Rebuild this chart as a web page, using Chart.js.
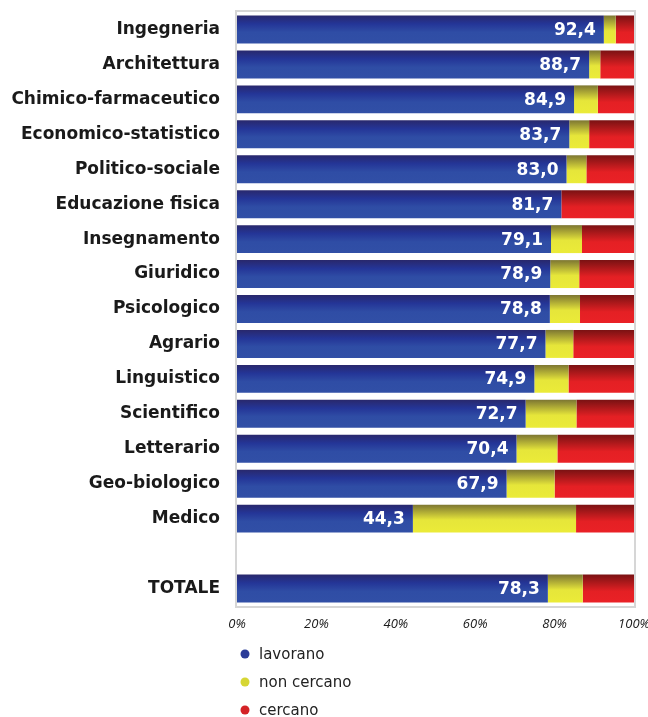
<!DOCTYPE html>
<html>
<head>
<meta charset="utf-8">
<title>Condizione occupazionale per gruppo disciplinare</title>
<script src="https://cdn.jsdelivr.net/npm/chart.js@4/dist/chart.umd.min.js"></script>
<style>
  html, body { margin: 0; padding: 0; background: #ffffff; }
  #wrap { width: 648px; height: 717px; position: relative; }
</style>
</head>
<body>
<div id="wrap"><canvas id="chart"></canvas></div>
<script>
// categories (empty slot keeps the gap before TOTALE)
const categories = [
  'Ingegneria', 'Architettura', 'Chimico-farmaceutico', 'Economico-statistico',
  'Politico-sociale', 'Educazione fisica', 'Insegnamento', 'Giuridico',
  'Psicologico', 'Agrario', 'Linguistico', 'Scientifico', 'Letterario',
  'Geo-biologico', 'Medico', '', 'TOTALE'
];

// series values (%)
const lavorano = [92.4, 88.7, 84.9, 83.7, 83.0, 81.7, 79.1, 78.9, 78.8, 77.7, 74.9, 72.7, 70.4, 67.9, 44.3, null, 78.3];
const nonCercano = [3.0, 2.8, 6.0, 5.0, 5.0, 0, 7.8, 7.3, 7.6, 7.0, 8.6, 12.8, 10.3, 12.1, 41.1, null, 8.8];
const cercano = [4.6, 8.5, 9.1, 11.3, 12.0, 18.3, 13.1, 13.8, 13.6, 15.3, 16.5, 14.5, 19.3, 20.0, 14.6, null, 12.9];

const seriesNames = ['lavorano', 'non cercano', 'cercano'];
const xTicks = [0, 20, 40, 60, 80, 100];

const FONT = "'DejaVu Sans', Verdana, sans-serif";

// vertical gradient per bar, dark on top like the original
function barGradient(stops) {
  return function(ctx) {
    const chart = ctx.chart;
    const yScale = chart.scales.y;
    if (!chart.chartArea || !yScale || ctx.type !== 'data') return stops[stops.length - 1][1];
    const center = yScale.getPixelForValue(ctx.dataIndex);
    const half = (yScale.height / categories.length) * 0.8 / 2;
    const g = chart.ctx.createLinearGradient(0, center - half, 0, center + half);
    stops.forEach(function(s) { g.addColorStop(s[0], s[1]); });
    return g;
  };
}

const blueStops = [[0, '#29286c'], [0.3, '#243597'], [0.6, '#2f4da5'], [1, '#314fa6']];
const yellowStops = [[0, '#7d7632'], [0.55, '#e6e63a'], [1, '#ebeb38']];
const redStops = [[0, '#7a1213'], [0.6, '#e42024'], [1, '#ea2126']];
const legendColors = ['#2b3c98', '#d6d634', '#d42226'];

// light grey frame round the plot area
const framePlugin = {
  id: 'frame',
  beforeDatasetsDraw: function(chart) {
    const a = chart.chartArea;
    const ctx = chart.ctx;
    ctx.save();
    ctx.strokeStyle = '#d6d6d6';
    ctx.lineWidth = 2;
    ctx.strokeRect(a.left - 1, a.top - 1, a.right - a.left + 2, a.bottom - a.top + 2);
    ctx.restore();
  }
};

// white values at the end of the blue bars
const valueLabels = {
  id: 'valueLabels',
  afterDatasetsDraw: function(chart) {
    const ctx = chart.ctx;
    const meta = chart.getDatasetMeta(0);
    ctx.save();
    ctx.font = 'bold 17px ' + FONT;
    ctx.fillStyle = '#ffffff';
    ctx.textAlign = 'right';
    ctx.textBaseline = 'middle';
    meta.data.forEach(function(bar, i) {
      const v = lavorano[i];
      if (v === null) return;
      ctx.fillText(v.toFixed(1).replace('.', ','), bar.x - 8, bar.y + 1);
    });
    ctx.restore();
  }
};

// vertical legend under the axis
const stackedLegend = {
  id: 'stackedLegend',
  afterDraw: function(chart) {
    const ctx = chart.ctx;
    ctx.save();
    ctx.font = '15px ' + FONT;
    ctx.textBaseline = 'middle';
    chart.data.datasets.forEach(function(ds, i) {
      const y = 654 + i * 28;
      ctx.beginPath();
      ctx.arc(245, y, 4.5, 0, Math.PI * 2);
      ctx.fillStyle = legendColors[i];
      ctx.fill();
      ctx.fillStyle = '#222222';
      ctx.fillText(ds.label, 259, y + 1);
    });
    ctx.restore();
  }
};

new Chart(document.getElementById('chart'), {
  type: 'bar',
  data: {
    labels: categories,
    datasets: [
      { label: seriesNames[0], data: lavorano, backgroundColor: barGradient(blueStops) },
      { label: seriesNames[1], data: nonCercano, backgroundColor: barGradient(yellowStops) },
      { label: seriesNames[2], data: cercano, backgroundColor: barGradient(redStops) }
    ]
  },
  options: {
    indexAxis: 'y',
    responsive: true,
    maintainAspectRatio: false,
    animation: false,
    barPercentage: 0.8,
    categoryPercentage: 1,
    layout: { padding: { left: 0, right: 14, top: 12, bottom: 83 } },
    plugins: {
      legend: { display: false },
      tooltip: { enabled: false }
    },
    scales: {
      x: {
        stacked: true,
        min: 0,
        max: 100,
        afterBuildTicks: function(scale) {
          scale.ticks = xTicks.map(function(v) { return { value: v }; });
        },
        afterFit: function(scale) {
          scale.height = 28;
          scale.paddingLeft = 0;
          scale.paddingRight = 0;
        },
        grid: { display: false, drawTicks: false },
        border: { display: false },
        ticks: {
          padding: 10,
          color: '#1a1a1a',
          font: { family: "'Open Sans', sans-serif", size: 13, style: 'italic' },
          callback: function(v) { return v + '%'; }
        }
      },
      y: {
        stacked: true,
        afterFit: function(scale) {
          scale.width = 237;
          scale.paddingTop = 0;
          scale.paddingBottom = 0;
        },
        grid: { display: false, drawTicks: false },
        border: { display: false },
        ticks: {
          padding: 17,
          color: '#1a1a1a',
          font: { family: FONT, size: 17, weight: 'bold' }
        }
      }
    }
  },
  plugins: [framePlugin, valueLabels, stackedLegend]
});
</script>
</body>
</html>
